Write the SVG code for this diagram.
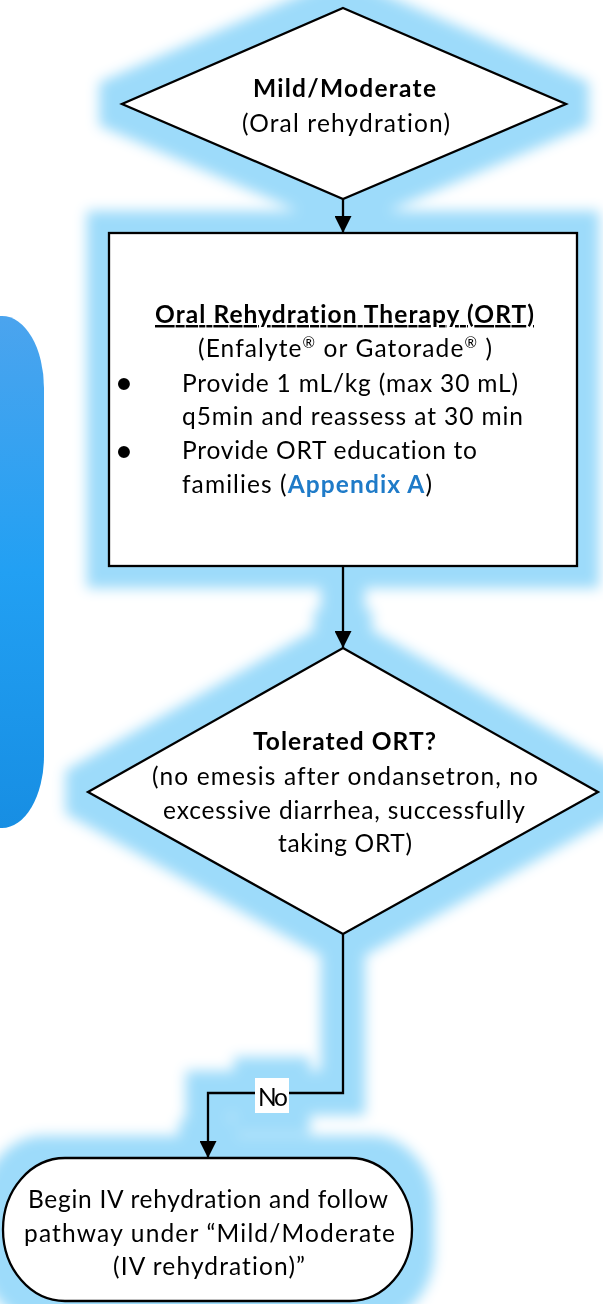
<svg xmlns="http://www.w3.org/2000/svg" width="603" height="1304" viewBox="0 0 603 1304">
  <defs>
    <style>
      .t{font-family:Lato,"Liberation Sans",sans-serif;font-size:24.5px;fill:#000;font-variant-ligatures:none;font-feature-settings:"liga" 0}
      .b{font-weight:bold}
      .m{text-anchor:middle}
      .link{font-weight:bold;fill:#1f7bc8}
      .bullet{font-family:"Liberation Sans",sans-serif;font-size:44px;fill:#000;text-anchor:middle}
      .shape{fill:#fff;stroke:#000;stroke-width:2.3}
      .wire{fill:none;stroke:#000;stroke-width:2.3}
    </style>
    <linearGradient id="panelFill" x1="0" y1="0" x2="0" y2="1">
      <stop offset="0" stop-color="#4ba4ee"/>
      <stop offset="0.5" stop-color="#22a0f3"/>
      <stop offset="1" stop-color="#178ee3"/>
    </linearGradient>
    <!-- soft light-blue halo around every shape and wire -->
    <filter id="glow" filterUnits="userSpaceOnUse" x="-80" y="-80" width="763" height="1464" color-interpolation-filters="sRGB">
      <feMorphology in="SourceAlpha" operator="dilate" radius="21" result="grown"/>
      <feGaussianBlur in="grown" stdDeviation="6.5" result="soft"/>
      <feFlood flood-color="#9ddbfa"/>
      <feComposite in2="soft" operator="in" result="halo"/>
      <feMerge>
        <feMergeNode in="halo"/>
        <feMergeNode in="SourceGraphic"/>
      </feMerge>
    </filter>
    <marker id="arrow" viewBox="0 0 10 10" refX="10" refY="5" markerWidth="17" markerHeight="17" markerUnits="userSpaceOnUse" orient="auto">
      <path d="M0,0 L10,5 L0,10 Z" fill="#000"/>
    </marker>
  </defs>

  <rect id="side-panel" x="-40" y="316" width="84" height="512" rx="72" ry="72" fill="url(#panelFill)"/>

  <g id="flow" filter="url(#glow)">
    <g id="connectors">
      <path class="wire" d="M343,199 L343,233" marker-end="url(#arrow)"/>
      <path class="wire" d="M343,566 L343,648" marker-end="url(#arrow)"/>
      <path class="wire" d="M343,934 L343,1093 L208,1093 L208,1158" marker-end="url(#arrow)"/>
      <g id="label-no">
        <rect x="255" y="1078" width="34" height="35" fill="#fff"/>
        <text class="t m" x="273" y="1106" textLength="30">No</text>
      </g>
    </g>

    <g id="mild-moderate">
      <polygon class="shape" points="343,8 566,104 343,199 122,104"/>
      <text class="t b m" x="344.5" y="97" textLength="183">Mild/Moderate</text>
      <text class="t m" x="346" y="132" textLength="208">(Oral rehydration)</text>
    </g>

    <g id="ort-box">
      <rect class="shape" x="109" y="233" width="468" height="333"/>
      <text class="t b m" x="344.5" y="323" textLength="379" text-decoration="underline">Oral Rehydration Therapy (ORT)</text>
      <text class="t" x="198" y="357" textLength="294">(Enfalyte<tspan font-size="15" dy="-9">®</tspan><tspan dy="9"> or Gatorade</tspan><tspan font-size="15" dy="-9">®</tspan><tspan dy="9"> )</tspan></text>
      <text class="bullet" x="124" y="399">•</text>
      <text class="t" x="182" y="392" textLength="336">Provide 1 mL/kg (max 30 mL)</text>
      <text class="t" x="182" y="425" textLength="341">q5min and reassess at 30 min</text>
      <text class="bullet" x="124" y="467">•</text>
      <text class="t" x="182" y="459" textLength="295">Provide ORT education to</text>
      <text class="t" x="182" y="493" textLength="250">families (<tspan class="link">Appendix A</tspan>)</text>
    </g>

    <g id="tolerated-ort">
      <polygon class="shape" points="343,648 598,792 343,934 88,792"/>
      <text class="t b m" x="344.5" y="750" textLength="183">Tolerated ORT?</text>
      <text class="t m" x="345" y="785" textLength="386">(no emesis after ondansetron, no</text>
      <text class="t m" x="344" y="819" textLength="362">excessive diarrhea, successfully</text>
      <text class="t m" x="345" y="852" textLength="134">taking ORT)</text>
    </g>

    <g id="begin-iv">
      <rect class="shape" x="3" y="1158" width="409" height="143" rx="62" ry="72"/>
      <text class="t m" x="208" y="1208" textLength="360">Begin IV rehydration and follow</text>
      <text class="t m" x="209.5" y="1242" textLength="371">pathway under “Mild/Moderate</text>
      <text class="t m" x="209" y="1275" textLength="192">(IV rehydration)”</text>
    </g>
  </g>
</svg>
